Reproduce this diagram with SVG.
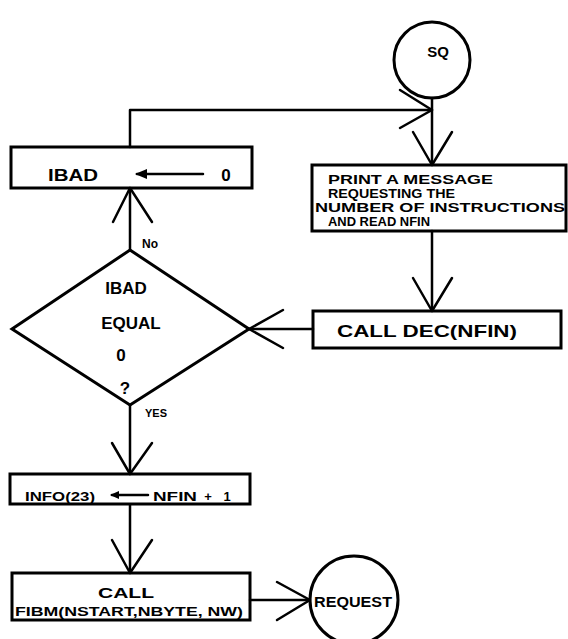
<svg xmlns="http://www.w3.org/2000/svg" width="568" height="639" viewBox="0 0 568 639">
<style>
.ln{fill:none;stroke:#000;stroke-width:2.5;stroke-linecap:round;stroke-linejoin:round}
.bx{fill:none;stroke:#000;stroke-width:3}
.t{font-family:"Liberation Sans","DejaVu Sans",sans-serif;font-weight:bold;fill:#000}
</style>
<rect width="568" height="639" fill="#fff"/>
<g id="connectors">
  <path class="ln" d="M130,147 V110 H432"/>
  <path class="ln" d="M400,90 L432,110 L400,128"/>
  <path class="ln" d="M432,98 V165"/>
  <path class="ln" d="M413,132 L432,165 L452,132"/>
  <path class="ln" d="M432,231 V311"/>
  <path class="ln" d="M413,278 L432,311 L452,278"/>
  <path class="ln" d="M313,329 H249"/>
  <path class="ln" d="M283,310 L249,329 L283,348"/>
  <path class="ln" d="M130,250 V188"/>
  <path class="ln" d="M113,222 L130,188 L152,222"/>
  <path class="ln" d="M130,405 V474"/>
  <path class="ln" d="M112,443 L130,474 L152,443"/>
  <path class="ln" d="M130,505 V573"/>
  <path class="ln" d="M112,540 L130,573 L152,540"/>
  <path class="ln" d="M250,600 H310"/>
  <path class="ln" d="M277,582 L310,600 L277,620"/>
  <text class="t" x="142" y="248" font-size="12">No</text>
  <text class="t" x="145" y="417" font-size="11" textLength="22" lengthAdjust="spacingAndGlyphs">YES</text>
</g>
<g id="sq">
  <circle class="bx" cx="432" cy="60" r="38"/>
  <text class="t" x="438" y="57" font-size="15" text-anchor="middle">SQ</text>
</g>
<g id="ibad-assign">
  <rect class="bx" x="11" y="147" width="241" height="41"/>
  <text class="t" x="48" y="181" font-size="17" textLength="50" lengthAdjust="spacingAndGlyphs">IBAD</text>
  <path class="ln" d="M203,174 H137"/>
  <path d="M135,174 L147,169 L147,179 Z" fill="#000"/>
  <text class="t" x="226" y="181" font-size="17" text-anchor="middle">0</text>
</g>
<g id="print">
  <rect class="bx" x="312" y="165" width="254" height="66"/>
  <text class="t" x="328" y="184" font-size="13" textLength="165" lengthAdjust="spacingAndGlyphs">PRINT A  MESSAGE</text>
  <text class="t" x="328" y="198" font-size="13" textLength="127" lengthAdjust="spacingAndGlyphs">REQUESTING  THE</text>
  <text class="t" x="315" y="212" font-size="13" textLength="250" lengthAdjust="spacingAndGlyphs">NUMBER OF INSTRUCTIONS</text>
  <text class="t" x="328" y="226" font-size="13" textLength="102" lengthAdjust="spacingAndGlyphs">AND READ NFIN</text>
</g>
<g id="calldec">
  <rect class="bx" x="313" y="311" width="248" height="37"/>
  <text class="t" x="337" y="337" font-size="17" textLength="180" lengthAdjust="spacingAndGlyphs">CALL DEC(NFIN)</text>
</g>
<g id="decision">
  <polygon class="bx" points="130,250 249,329 130,405 12,329"/>
  <text class="t" x="126" y="294" font-size="17" text-anchor="middle">IBAD</text>
  <text class="t" x="131" y="329" font-size="17" text-anchor="middle">EQUAL</text>
  <text class="t" x="121" y="361" font-size="17" text-anchor="middle">0</text>
  <text class="t" x="125" y="394" font-size="17" text-anchor="middle">?</text>
</g>
<g id="info">
  <rect class="bx" x="10" y="474" width="240" height="30"/>
  <text class="t" x="25" y="501" font-size="13" textLength="70" lengthAdjust="spacingAndGlyphs">INFO(23)</text>
  <path class="ln" d="M148,495 H112"/>
  <path d="M110,495 L119,491 L119,499 Z" fill="#000"/>
  <text class="t" x="153" y="501" font-size="13" textLength="44" lengthAdjust="spacingAndGlyphs">NFIN</text>
  <text class="t" x="208" y="501" font-size="13" text-anchor="middle">+</text>
  <text class="t" x="227" y="501" font-size="13" text-anchor="middle">1</text>
</g>
<g id="fibm">
  <rect class="bx" x="12" y="573" width="238" height="47"/>
  <text class="t" x="126" y="598" font-size="15" text-anchor="middle" textLength="56" lengthAdjust="spacingAndGlyphs">CALL</text>
  <text class="t" x="15" y="616" font-size="13" textLength="228" lengthAdjust="spacingAndGlyphs">FIBM(NSTART,NBYTE, NW)</text>
</g>
<g id="request">
  <circle class="bx" cx="354" cy="600" r="44"/>
  <text class="t" x="314" y="607" font-size="14" textLength="78" lengthAdjust="spacingAndGlyphs">REQUEST</text>
</g>
</svg>
